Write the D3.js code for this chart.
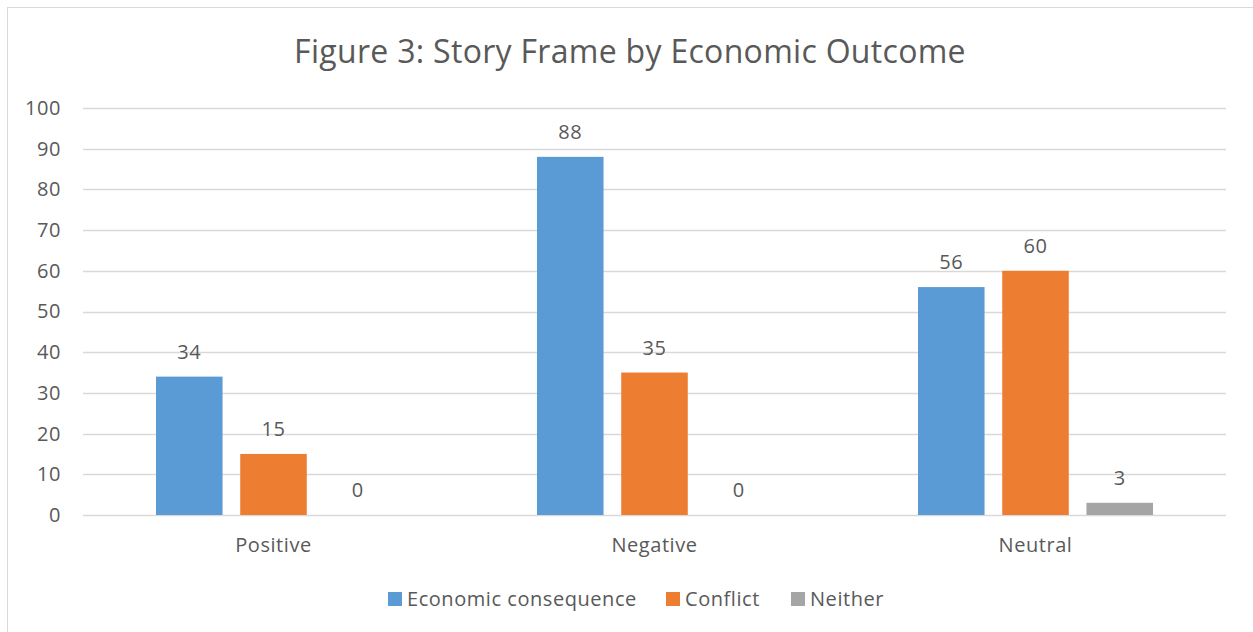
<!DOCTYPE html>
<html>
<head>
<meta charset="utf-8">
<script src="https://cdn.jsdelivr.net/npm/d3@7"></script>
<style>
  html, body { margin: 0; padding: 0; background: #fff; }
  svg { display: block; }
  text { font-family: "Open Sans", "Noto Sans", sans-serif; fill: #595959; }
  .lbl { font-size: 20px; letter-spacing: 0.55px; }
</style>
</head>
<body>
<svg id="chart" width="1253" height="632"></svg>
<script>
// Story frame counts per economic outcome
const categories = ["Positive", "Negative", "Neutral"];
const seriesNames = ["Economic consequence", "Conflict", "Neither"];
const economicConsequence = [34, 88, 56];
const conflict = [15, 35, 60];
const neither = [0, 0, 3];
const yTicks = [0, 10, 20, 30, 40, 50, 60, 70, 80, 90, 100];
const colors = ["#5B9BD5", "#ED7D31", "#A5A5A5"];

const seriesValues = [economicConsequence, conflict, neither];
const rows = categories.map((c, i) => ({
  category: c,
  values: seriesNames.map((s, j) => ({ series: s, value: seriesValues[j][i], idx: j }))
}));

const svg = d3.select("#chart");
const W = 1253, H = 632;
const plot = { left: 83, right: 1226, top: 108, bottom: 515 };

// chart frame
svg.append("rect")
  .attr("x", 7.5).attr("y", 7.5)
  .attr("width", W + 10).attr("height", H + 10)
  .attr("fill", "none").attr("stroke", "#D9D9D9").attr("stroke-width", 1);

// title
svg.append("text")
  .attr("x", 630).attr("y", 63)
  .attr("text-anchor", "middle")
  .style("font-size", "32px")
  .style("letter-spacing", "0.3px")
  .text("Figure 3: Story Frame by Economic Outcome");

const x0 = d3.scaleBand().domain(categories).range([plot.left, plot.right]).paddingInner(0).paddingOuter(0);
const x1 = d3.scaleBand().domain(seriesNames).range([73, x0.bandwidth() - 73]).paddingInner(0.21).paddingOuter(0);
const y = d3.scaleLinear().domain([0, 100]).range([plot.bottom, plot.top]);

// gridlines
svg.append("g")
  .selectAll("line")
  .data(yTicks)
  .join("line")
  .attr("x1", plot.left).attr("x2", plot.right)
  .attr("y1", d => Math.round(y(d)) + 0.5).attr("y2", d => Math.round(y(d)) + 0.5)
  .attr("stroke", "#D9D9D9").attr("stroke-width", 1.3);

// y axis labels
const yAxis = d3.axisLeft(y).tickValues(yTicks).tickSize(0).tickPadding(0);
const gy = svg.append("g").attr("transform", `translate(61,0)`).call(yAxis);
gy.select(".domain").remove();
gy.selectAll("text").attr("class", "lbl").attr("fill", "#595959");
gy.attr("font-size", null).attr("font-family", null);

// x axis labels
const xAxis = d3.axisBottom(x0).tickSize(0).tickPadding(0);
const gx = svg.append("g").attr("transform", `translate(0,${plot.bottom + 23})`).call(xAxis);
gx.select(".domain").remove();
gx.selectAll("text").attr("class", "lbl").attr("fill", "#595959");
gx.attr("font-size", null).attr("font-family", null);

// bars
const groups = svg.append("g").selectAll("g")
  .data(rows).join("g")
  .attr("transform", d => `translate(${x0(d.category)},0)`);

groups.selectAll("rect")
  .data(d => d.values)
  .join("rect")
  .attr("x", d => x1(d.series))
  .attr("width", x1.bandwidth())
  .attr("y", d => y(d.value))
  .attr("height", d => y(0) - y(d.value))
  .attr("fill", d => colors[d.idx]);

// value labels
groups.selectAll("text.val")
  .data(d => d.values)
  .join("text")
  .attr("class", "val lbl")
  .attr("x", d => x1(d.series) + x1.bandwidth() / 2)
  .attr("y", d => y(d.value) - 18)
  .attr("text-anchor", "middle")
  .text(d => d.value);

// legend
const legendX = [388, 666, 791];
const legend = svg.append("g").selectAll("g")
  .data(seriesNames).join("g")
  .attr("transform", (d, i) => `translate(${legendX[i]},592)`);
legend.append("rect").attr("width", 14).attr("height", 14).attr("fill", (d, i) => colors[i]);
legend.append("text").attr("class", "lbl").attr("x", 19).attr("y", 14).text(d => d);
</script>
</body>
</html>
